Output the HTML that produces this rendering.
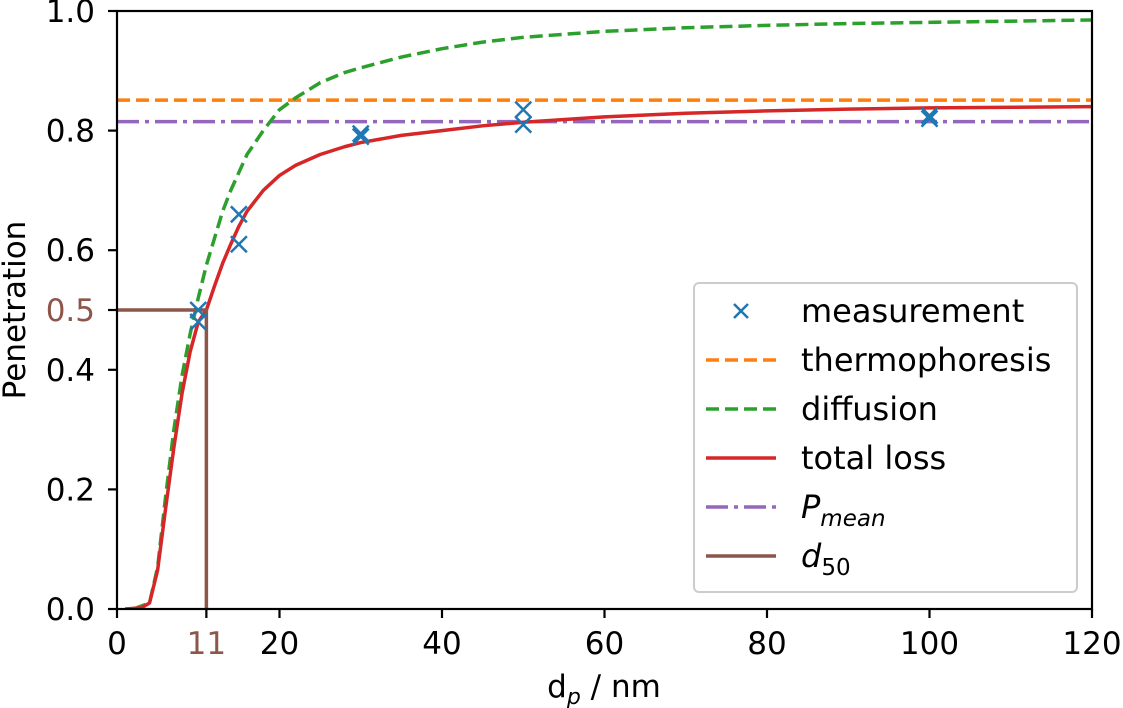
<!DOCTYPE html>
<html><head><meta charset="utf-8"><style>
html,body{margin:0;padding:0;background:#fff;}
svg{display:block;font-family:"DejaVu Sans","Liberation Sans",sans-serif;}
</style></head><body>
<svg id="chart" width="1123" height="708" viewBox="0 0 1123 708">
<g id="plot"></g>
<g id="axes"></g>
<g id="legend"></g>
</svg>
<script>
const diffX = [2,3,4,5,6,7,8,9,10,11,12,13,14,15,16,18,20,22,25,28,30,35,40,45,50,60,70,80,90,100,120];
const diffY = [0,0.005,0.01,0.07,0.19,0.3,0.39,0.46,0.52,0.575,0.62,0.665,0.70,0.73,0.76,0.80,0.835,0.855,0.88,0.897,0.905,0.923,0.937,0.948,0.956,0.966,0.972,0.976,0.979,0.981,0.985];
const totX = [1,3,4,5,6,7,8,9,10,11,12,13,14,15,16,18,20,22,25,28,30,35,40,45,50,60,70,80,90,100,120];
const totY = [0,0.002,0.01,0.065,0.17,0.27,0.36,0.43,0.48,0.5,0.54,0.578,0.61,0.64,0.665,0.70,0.725,0.742,0.76,0.773,0.78,0.792,0.80,0.808,0.814,0.823,0.829,0.833,0.836,0.838,0.84];
const measX = [10,10,15,15,30,30,50,50,100,100];
const measY = [0.5,0.48,0.66,0.61,0.795,0.79,0.835,0.81,0.825,0.82];
const thermo = 0.851;
const pMean = 0.815;
const d50 = 11;
const xTicks = [0,11,20,40,60,80,100,120];
const yTicks = [0,0.2,0.4,0.5,0.6,0.8,1.0];

const NS='http://www.w3.org/2000/svg';
const X0=117,X1=1092,Y0=609,Y1=11;
const sx=v=>X0+(v-0)/120*(X1-X0);
const sy=v=>Y0-(v-0)/1*(Y0-Y1);
function mk(tag,attrs,parent){const e=document.createElementNS(NS,tag);for(const k in attrs)e.setAttribute(k,attrs[k]);parent.appendChild(e);return e;}
const plot=document.getElementById('plot'),axes=document.getElementById('axes'),leg=document.getElementById('legend');
const cp=mk('clipPath',{id:'clip'},plot);
mk('rect',{x:X0,y:Y1,width:X1-X0,height:Y0-Y1},cp);
const g=mk('g',{'clip-path':'url(#clip)'},plot);
const LW=3.5, DASH='13,6', DDOT='22,6,4,6';

let l=mk('line',{x1:sx(0),x2:sx(120),y1:sy(thermo),y2:sy(thermo),stroke:'#ff7f0e','stroke-width':LW,'stroke-dasharray':DASH},g);


l=mk('line',{x1:sx(0),x2:sx(120),y1:sy(pMean),y2:sy(pMean),stroke:'#9467bd','stroke-width':LW,'stroke-dasharray':DDOT},g);


let p=mk('polyline',{points:diffX.map((x,i)=>sx(x)+','+sy(diffY[i])).join(' '),fill:'none',stroke:'#2ca02c','stroke-width':LW,'stroke-dasharray':DASH,'stroke-linejoin':'round'},g);


p=mk('polyline',{points:totX.map((x,i)=>sx(x)+','+sy(totY[i])).join(' '),fill:'none',stroke:'#d62728','stroke-width':LW,'stroke-linejoin':'round'},g);


p=mk('polyline',{points:`${sx(0)},${sy(0.5)} ${sx(d50)},${sy(0.5)} ${sx(d50)},${sy(0)}`,fill:'none',stroke:'#8c564b','stroke-width':LW},g);


measX.forEach((x,i)=>{const cx=sx(x),cy=sy(measY[i]),r=8;
 const m=mk('path',{d:`M${cx-r},${cy-r}L${cx+r},${cy+r}M${cx-r},${cy+r}L${cx+r},${cy-r}`,stroke:'#1f77b4','stroke-width':2.5,fill:'none'},g);
 
 
});

mk('rect',{x:X0,y:Y1,width:X1-X0,height:Y0-Y1,fill:'none',stroke:'#000','stroke-width':2.2},axes);
const FS=31;
xTicks.forEach(v=>{const x=sx(v);mk('line',{x1:x,x2:x,y1:Y0,y2:Y0+9,stroke:'#000','stroke-width':2.2},axes);
 const t=mk('text',{x:x,y:654,'text-anchor':'middle','font-size':FS,fill:v===d50?'#8c564b':'#000'},axes);t.textContent=v;
 
 });
yTicks.forEach(v=>{const y=sy(v);mk('line',{x1:X0-9,x2:X0,y1:y,y2:y,stroke:'#000','stroke-width':2.2},axes);
 const t=mk('text',{x:X0-22,y:y+11,'text-anchor':'end','font-size':FS,fill:v===0.5?'#8c564b':'#000'},axes);t.textContent=v.toFixed(1);
 
 });
let t=mk('text',{x:604,y:697,'text-anchor':'middle','font-size':FS},axes);t.innerHTML='d<tspan font-size="22" font-style="italic" dy="7">p</tspan><tspan dy="-7"> / nm</tspan>';


t=mk('text',{x:0,y:0,'text-anchor':'middle','font-size':FS,transform:'translate(25,310) rotate(-90)'},axes);t.textContent='Penetration';



mk('rect',{x:694,y:283,width:383,height:309,rx:5,fill:'#fff','fill-opacity':0.85,stroke:'#ccc','stroke-width':2},leg);
const items=[['measurement','x'],['thermophoresis','#ff7f0e',DASH],['diffusion','#2ca02c',DASH],['total loss','#d62728',''],['P','#9467bd',DDOT],['d','#8c564b','']];
items.forEach((it,i)=>{const y=311+i*49;
 const eg=mk('g',{},leg);
 
 
 if(it[1]==='x'){const cx=741,r=7;mk('path',{d:`M${cx-r},${y-r}L${cx+r},${y+r}M${cx-r},${y+r}L${cx+r},${y-r}`,stroke:'#1f77b4','stroke-width':2.5},eg);}
 else mk('line',{x1:706,x2:776,y1:y,y2:y,stroke:it[1],'stroke-width':LW,'stroke-dasharray':it[2]||'none'},eg);
 const tx=mk('text',{x:801,y:y+11,'font-size':32},eg);
 if(i===4)tx.innerHTML='<tspan font-style="italic">P</tspan><tspan font-style="italic" font-size="23" dy="8">mean</tspan>';
 else if(i===5)tx.innerHTML='<tspan font-style="italic">d</tspan><tspan font-size="23" dy="8">50</tspan>';
 else tx.textContent=it[0];
});
</script>
</body></html>
